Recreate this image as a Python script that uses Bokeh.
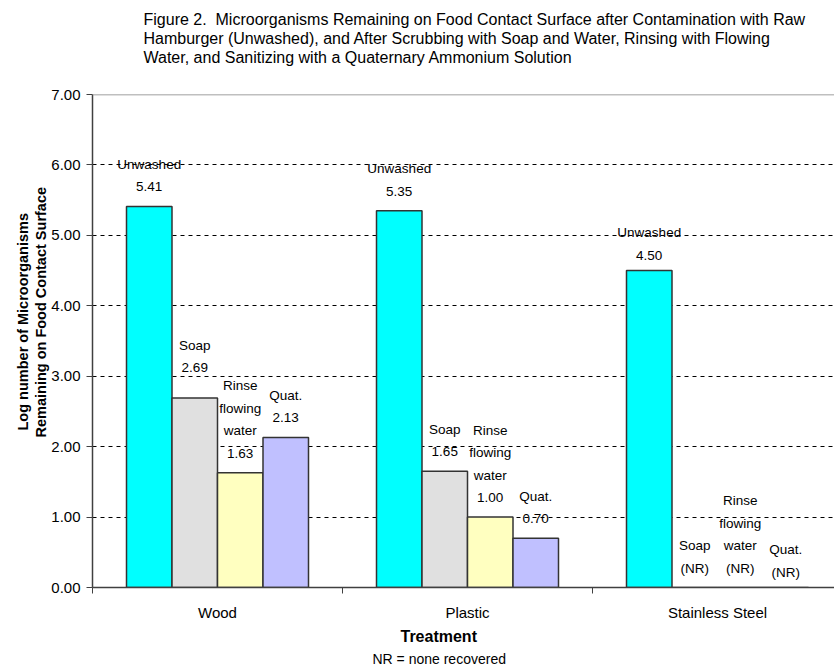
import math
from bokeh.plotting import figure
from bokeh.models import (ColumnDataSource, Range1d, FixedTicker, NumeralTickFormatter,
                          Title, Span)
from bokeh.core.properties import value
from bokeh.embed import file_html
from bokeh.resources import INLINE

# ---- data ----
surfaces = ["Wood", "Plastic", "Stainless Steel"]
treatments = ["Unwashed", "Soap", "Rinse\nflowing\nwater", "Quat."]
unwashed = [5.41, 5.35, 4.50]
soap = [2.69, 1.65, 0.0]
rinse = [1.63, 1.00, 0.0]
quat = [2.13, 0.70, 0.0]
none_recovered = [[False, False, False, False],
                  [False, False, False, False],
                  [False, True, True, True]]
colors = ["#00FFFF", "#E0E0E0", "#FFFFC0", "#C0C0FF"]
y_ticks = [0, 1, 2, 3, 4, 5, 6, 7]
title_lines = [
    "Figure 2.\u00a0 Microorganisms Remaining on Food Contact Surface after Contamination with Raw",
    "Hamburger (Unwashed), and After Scrubbing with Soap and Water, Rinsing with Flowing",
    "Water, and Sanitizing with a Quaternary Ammonium Solution",
]
y_title_lines = ["Log number of Microorganisms", "Remaining on Food Contact Surface"]
x_title = "Treatment"
footnote = "NR = none recovered"

# label nudges in pixels (layout only)
label_nudge = [[0, -11, 0, 0], [0, 0, 0, 0], [4, 0, 0, 4]]

FONT = "Liberation Sans"
series = [unwashed, soap, rinse, quat]
bar_w = 0.182

W, H = 834, 672
LEFT, TOP, BOTTOM = 92, 94, 85
p = figure(width=W, height=H, output_backend="svg", toolbar_location=None,
           x_range=Range1d(0, (W - LEFT) / 250.0), y_range=Range1d(0, 7),
           min_border_left=LEFT, min_border_right=0, min_border_top=TOP,
           min_border_bottom=BOTTOM)
p.outline_line_color = None
p.background_fill_color = "white"
p.border_fill_color = "white"

xs, tops, fills, texts, nudges = [], [], [], [], []
for i in range(len(surfaces)):
    for j in range(4):
        x = i + 0.5 + (j - 1.5) * bar_w
        v = series[j][i]
        xs.append(x)
        tops.append(v)
        fills.append(colors[j])
        if none_recovered[i][j]:
            texts.append(treatments[j] + "\n(NR)")
        else:
            texts.append(treatments[j] + "\n" + "%.2f" % v)
        nudges.append(-12 + label_nudge[i][j])

src = ColumnDataSource(dict(x=xs, top=tops, fill=fills, text=texts, yoff=nudges))

# grid
p.xgrid.grid_line_color = None
p.ygrid.ticker = FixedTicker(ticks=[1, 2, 3, 4, 5, 6])
p.ygrid.grid_line_color = "black"
p.ygrid.grid_line_dash = "4 4"
p.ygrid.grid_line_width = 1
p.add_layout(Span(location=7, dimension="width", line_color="#808080", line_width=1.5))

p.vbar(x="x", top="top", width=bar_w, bottom=0, source=src, fill_color="fill",
       line_color="#333333", line_width=1.5)

p.text(x="x", y="top", text="text", source=src, text_align="center",
       text_baseline="bottom", y_offset="yoff", text_font=value(FONT),
       text_font_size="13.5px", text_color="#000000", text_line_height=1.5)

# axes
p.yaxis.ticker = FixedTicker(ticks=y_ticks)
p.yaxis.formatter = NumeralTickFormatter(format="0.00")
p.yaxis.major_label_text_font = FONT
p.yaxis.major_label_text_font_size = "15px"
p.yaxis.major_label_text_color = "black"
p.yaxis.major_tick_out = 6
p.yaxis.major_tick_in = 0
p.yaxis.minor_tick_line_color = None
p.yaxis.axis_line_color = "#404040"
p.yaxis.axis_line_width = 1.5
p.yaxis.major_tick_line_color = "#404040"
p.yaxis.major_label_standoff = 6

p.xaxis.ticker = FixedTicker(ticks=[0.5, 1.5, 2.5], minor_ticks=[0, 1, 2, 3])
p.xaxis.major_label_overrides = {0.5: surfaces[0], 1.5: surfaces[1], 2.5: surfaces[2]}
p.xaxis.major_label_text_font = FONT
p.xaxis.major_label_text_font_size = "15px"
p.xaxis.major_label_text_color = "black"
p.xaxis.major_tick_out = 0
p.xaxis.major_tick_in = 0
p.xaxis.minor_tick_out = 6
p.xaxis.minor_tick_in = 0
p.xaxis.minor_tick_line_color = "#404040"
p.xaxis.axis_line_color = "#404040"
p.xaxis.axis_line_width = 1.5
p.xaxis.major_label_standoff = 10

# spacer between frame and title block
p.add_layout(Title(text=" ", text_font=FONT, text_font_size="24px", standoff=0), "above")
# title lines (innermost added first)
for k, line in reversed(list(enumerate(title_lines))):
    p.add_layout(Title(text=line, align="left", offset=51, text_font=FONT,
                       text_font_size="16px", text_font_style="normal",
                       text_color="black", standoff=0), "above")

# y-axis title lines (align left = from frame bottom)
for k, line in reversed(list(enumerate(y_title_lines))):
    p.add_layout(Title(text=line, align="left", offset=(157 if k == 0 else 150),
                       text_font=FONT, text_font_size="14.5px", text_font_style="bold",
                       text_color="black", standoff=0), "left")

# x title and footnote
p.add_layout(Title(text=x_title, align="left", offset=308, text_font=FONT,
                   text_font_size="16px", text_font_style="bold", text_color="black",
                   standoff=5), "below")
p.add_layout(Title(text=footnote, align="left", offset=280, text_font=FONT,
                   text_font_size="14px", text_font_style="normal", text_color="black",
                   standoff=3), "below")

open("out.html", "w").write(file_html(p, INLINE))
